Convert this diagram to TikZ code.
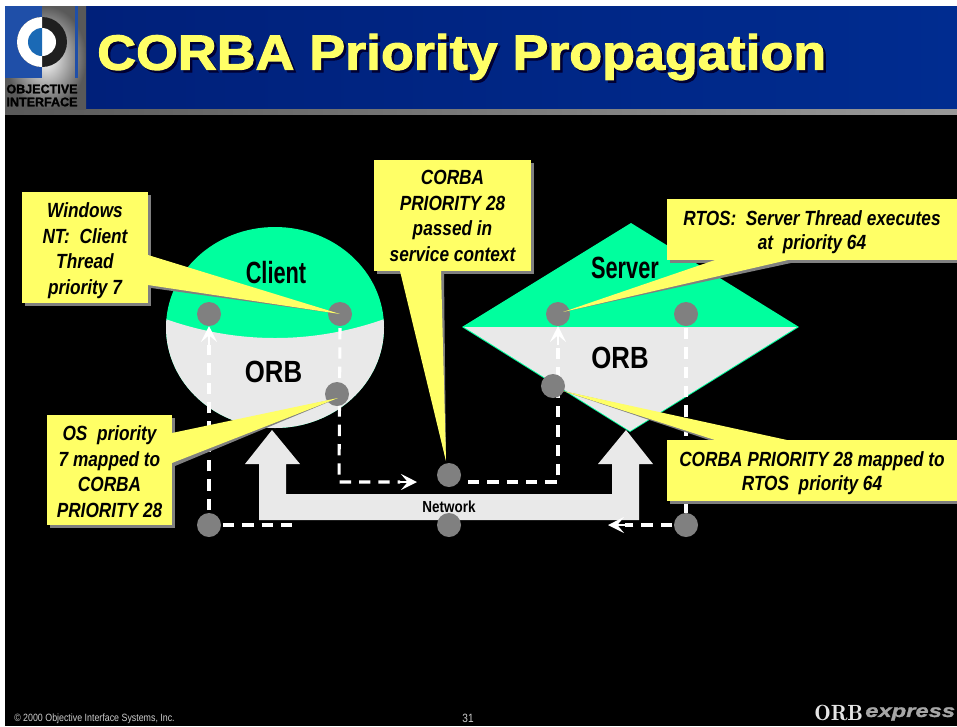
\documentclass[tikz,border=0pt]{standalone}
\usepackage{fontspec}
\setmainfont{Liberation Sans}
\newfontfamily\narf[FakeStretch=0.84]{Liberation Sans}
\newfontfamily\narrf[FakeStretch=0.71]{Liberation Sans}
\newfontfamily\titlef[FakeBold=2.2,FakeStretch=1.09]{Liberation Sans}
\newfontfamily\logof[FakeBold=1.5,FakeStretch=1.0]{Liberation Sans}
\newfontfamily\exprf[FakeBold=1.5,FakeStretch=1.32]{Liberation Sans}
\usetikzlibrary{arrows.meta,shapes.geometric}
\definecolor{cgreen}{HTML}{00FF9E}
\definecolor{corb}{HTML}{E9E9E9}
\definecolor{cyel}{HTML}{FFFF66}
\definecolor{cdot}{HTML}{808080}
\definecolor{cnavy}{HTML}{00207A}
\definecolor{cnavyb}{HTML}{002C90}
\definecolor{clogo}{HTML}{1F4FA8}
\tikzset{
  dotn/.style={circle,fill=cdot,minimum size=24*0.75pt,inner sep=0pt},
  lab/.style={font=\narf\bfseries\fontsize{23}{25}\selectfont,text=black,inner sep=0pt},
  labn/.style={font=\narrf\bfseries\fontsize{23}{25}\selectfont,text=black,inner sep=0pt},
  calltext/.style={font=\narf\bfseries\itshape\fontsize{15.4}{19.2}\selectfont,text=black,align=center,inner sep=0pt},
  flow/.style={draw=white,line width=2.3pt,dash pattern=on 8.5pt off 6pt},
  tipw/.style={draw=white,line width=2pt,-{Stealth[length=12pt,width=12pt,inset=5pt,fill=white]}},
  logotext/.style={font=\logof\bfseries\fontsize{9.4}{11}\selectfont,text=black,inner sep=0pt},
}
\newcommand{\cshift}{1.5}
% name, x1, y1, x2, y2, base a, base b, tip, text
\newcommand{\callout}[9]{%
  \fill[cdot] (#2+3,#3+3) rectangle (#4+3,#5+3);
  \fill[cdot] ([shift={(3,3)}]#6) -- ([shift={(3,3)}]#7) -- (#8) -- cycle;
  \fill[cyel] (#6) -- (#7) -- (#8) -- cycle;
  \fill[cyel] (#2,#3) rectangle (#4,#5);
  \node[calltext] (#1) at ({(#2+#4)/2},{(#3+#5)/2+\cshift}) {#9};
}
\begin{document}
\begin{tikzpicture}[x=0.75pt,y=-0.75pt]
\useasboundingbox (0,0) rectangle (957,726);
\fill[white] (0,0) rectangle (957,726);
\fill[black] (5,110) rectangle (957,726);
% header
\fill[left color=cnavy,right color=cnavyb] (86,6) rectangle (957,109);
\fill[left color=black!65,right color=black!40] (5,109) rectangle (957,114);
% logo
\shade[inner color=white,outer color=black!65] (5,6) rectangle (86,109);
\fill[clogo] (5,6) rectangle (42,78);
\fill[clogo] (75,6) rectangle (78,78);
\fill[black!88] (42,42) circle[radius=25];
\begin{scope}
  \clip (17,17) rectangle (42,67);
  \fill[white] (42,42) circle[radius=25];
\end{scope}
\fill[white] (42,42) circle[radius=14];
\begin{scope}
  \clip (28,28) rectangle (42,56);
  \fill[clogo!85!cyan] (42,42) circle[radius=14];
\end{scope}
\node[logotext] (logoa) at (42,89) {OBJECTIVE};
\node[logotext] (logob) at (42,102) {INTERFACE};
% title
\node[font=\titlef\bfseries\fontsize{37}{40}\selectfont,text=black!80!blue,anchor=west,inner sep=0pt] (titleshadow) at (99.5,59.5) {CORBA Priority Propagation};
\node[font=\titlef\bfseries\fontsize{37}{40}\selectfont,text=cyel,anchor=west,inner sep=0pt] (title) at (97,57) {CORBA Priority Propagation};
% client
\fill[cgreen] (275,327.5) ellipse[x radius=109,y radius=100.5];
\begin{scope}
  \clip (275,327.5) ellipse[x radius=109,y radius=100.5];
  \fill[corb] (160,317) .. controls (235,345) and (315,345) .. (390,317) -- (390,435) -- (160,435) -- cycle;
\end{scope}
% server
\fill[cgreen] (462,327) -- (631,223) -- (799,327) -- (630,432) -- cycle;
\fill[corb] (464,327) -- (797,327) -- (630,431) -- cycle;
% network
\fill[corb] (272,430) -- (300,464) -- (286,464) -- (286,494) -- (612,494) -- (612,464) -- (598,464) -- (626,430) -- (653,464) -- (639,464) -- (639,520) -- (259,520) -- (259,464) -- (245,464) -- cycle;
% labels
\node[labn] (client) at (276,273) {Client};
\node[lab] (orbl) at (273.5,372) {ORB};
\node[labn] (server) at (625,268) {Server};
\node[lab] (orbr) at (620,358) {ORB};
\node[font=\narf\bfseries\fontsize{12}{14}\selectfont,text=black,inner sep=0pt] (network) at (449,507) {Network};
% dot positions
\coordinate (c1p) at (209,314);
\coordinate (c2p) at (340,314);
\coordinate (c4p) at (209,525);
\coordinate (s1p) at (558,314);
\coordinate (s2p) at (686,314);
\coordinate (s4p) at (686,525);
% flows
\coordinate (ca) at (339,482);
\coordinate (cb) at (417,482);
\coordinate (cc) at (295,525);
\coordinate (sa) at (558,482);
\coordinate (sb) at (468,482);
\coordinate (sc) at (608,525);
\draw[flow] (209,510) -- (209,345);
\draw[tipw] (209,345) -- (209,326);
\draw[flow] (c4p) ++(14,0) -- (cc);
\draw[flow] (c2p) ++(0,14) -- (ca) -- (400,482);
\draw[tipw] (400,482) -- (cb);
\draw[flow] (sb) -- (sa) -- (558,345);
\draw[tipw] (558,345) -- (558,326);
\draw[flow] (s2p) ++(0,14) -- (686,513);
\draw[flow] (s4p) ++(-14,0) -- (625,525);
\draw[tipw] (625,525) -- (sc);
% dots
\node[dotn] (c1) at (c1p) {};
\node[dotn] (c2) at (c2p) {};
\node[dotn] (c3) at (337,394) {};
\node[dotn] (n1) at (449,475) {};
\node[dotn] (n2) at (449,525) {};
\node[dotn] (c4) at (c4p) {};
\node[dotn] (s1) at (s1p) {};
\node[dotn] (s2) at (s2p) {};
\node[dotn] (s3) at (553,386) {};
\node[dotn] (s4) at (s4p) {};
% callouts
\coordinate (t1) at (340,314);
\coordinate (t2) at (338,398);
\coordinate (t3) at (446,461);
\coordinate (t4) at (563,312);
\coordinate (t5) at (563,391);
\renewcommand{\cshift}{3}
\callout{b1}{22}{192}{148}{303}{148,255}{148,285}{t1}{Windows\\NT:~\ Client\\Thread\\priority 7}
\renewcommand{\cshift}{1.5}
\callout{b2}{47}{415}{172}{525}{172,433}{172,463}{t2}{OS~\ priority\\7 mapped to\\CORBA\\PRIORITY 28}
\renewcommand{\cshift}{0.5}
\callout{b3}{374}{160}{531}{271}{400,271}{441,271}{t3}{CORBA\\PRIORITY 28\\passed in\\service context}
\renewcommand{\cshift}{2.5}
\callout{b4}{667}{199}{957}{260}{715,260}{788,260}{t4}{\raisebox{-1pt}{RTOS:~\ Server Thread executes}\\at~\ priority 64}
\callout{b5}{667}{440}{957}{501}{715,440}{787,440}{t5}{\raisebox{-1pt}{CORBA PRIORITY 28 mapped to}\\RTOS~\ priority 64}
% footer
\node[font=\narf\fontsize{7.9}{9}\selectfont,text=black!20,anchor=west,inner sep=0pt] (copy) at (14,719) {© 2000 Objective Interface Systems, Inc.};
\node[font=\narf\fontsize{9}{10}\selectfont,text=black!20,inner sep=0pt] (page) at (468,718) {31};
\node[font=\fontfamily{lmr}\selectfont\bfseries\fontsize{16.5}{16}\selectfont,text=black!10,anchor=west,inner sep=0pt] (orbx) at (814,713) {ORB};
\node[font=\exprf\bfseries\itshape\fontsize{13.5}{14}\selectfont,text=black!35,anchor=west,inner sep=0pt] (expr) at (865,714) {express};
\end{tikzpicture}
\end{document}
